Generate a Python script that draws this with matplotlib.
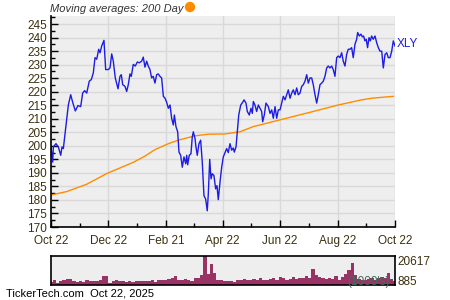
import numpy as np
import matplotlib
matplotlib.use("Agg")
import matplotlib.pyplot as plt
from matplotlib.patches import Ellipse

plt.rcParams['font.family'] = ['Liberation Sans', 'DejaVu Sans']

# days since Oct 22, 2024
price_days = [0, 1.8, 2.5, 5.3, 7.8, 10.3, 11.7, 13.1, 15.9, 18.4, 20.9, 23.0, 25.8, 28.6, 31.5, 33.6,
              35.7, 37.9, 40.6, 42.8, 44.9, 46.7, 48.5, 50.6, 52.0, 53.8, 56.2, 58.0, 60.8, 62.6, 64.4,
              66.1, 68.2, 71.1, 73.2, 74.6, 76.1, 78.5, 80.3, 82.0, 83.8, 85.2, 87.3, 89.4, 91.6, 93.7,
              96.2, 97.9, 99.7, 101.5, 103.2, 105.0, 106.8, 108.5, 110.3, 112.1, 113.8, 115.6, 117.4,
              119.2, 121.0, 122.7, 124.5, 126.3, 128.0, 129.8, 130.9, 132.6, 134.4, 135.8, 137.6, 139.3,
              141.1, 142.9, 144.0, 145.0, 146.7, 148.5, 149.9, 151.0, 152.8, 153.8, 155.2, 157.0, 158.8,
              160.5, 162.3, 164.1, 165.8, 166.9, 168.4, 169.8, 171.1, 172.9, 174.7, 176.1, 177.5, 179.3,
              181.1, 182.8, 184.6,
              186.4, 188.1, 189.9, 191.7, 193.4, 194.5, 196.3, 197.7, 199.2, 201.3, 203.4, 204.8, 206.9,
              208.3, 210.4, 212.2, 213.6, 214.7, 216.4, 218.2, 220.0, 221.7, 223.5, 224.6, 226.3, 228.1,
              230.6, 232.4, 234.2, 235.9, 237.7, 239.5, 241.2, 243.0, 244.8, 246.5, 248.3, 250.1, 251.8,
              253.6, 255.4, 257.1, 258.9, 260.7, 262.4, 264.2, 266.0, 267.7, 269.5, 271.3, 273.0, 274.8,
              276.6, 278.3, 280.1, 281.9, 283.6, 285.4, 287.2, 288.9, 290.7, 292.5, 294.2, 296.0, 297.8,
              299.5, 301.3, 303.1, 304.8, 306.6, 308.4, 310.1, 311.9, 313.7, 315.4, 317.2, 319.0, 320.7,
              322.5, 324.3, 325.4, 327.1, 328.9, 330.3, 331.7, 333.1, 334.5, 335.9, 337.4, 338.8, 340.2,
              341.9, 343.8, 345.5, 347.3, 349.1, 350.9, 352.6, 354.4, 356.2, 357.9, 359.7, 361.5, 363.2,
              365.0]
price = [199.6, 194.0, 199.6, 200.8, 199.6, 196.5, 199.6, 199.0, 207.7, 215.1, 218.9, 216.1, 212.9,
         214.9, 214.5, 219.5, 220.4, 219.5, 223.9, 224.5, 227.0, 232.6, 232.0, 235.7, 234.4, 236.9,
         239.0, 228.2, 228.2, 228.8, 234.0, 231.3, 225.1, 221.1, 225.7, 226.3, 222.6, 222.0, 220.1,
         222.6, 226.6, 225.7, 230.1, 229.5, 231.0, 230.7,
         231.3, 232.8, 229.1, 231.3, 229.5, 228.2, 225.1, 225.7, 223.2, 226.3, 226.6, 225.7, 225.1,
         218.3, 217.6, 216.1, 213.9, 215.1, 210.2, 207.7, 211.4, 207.1, 205.2, 197.7, 196.5, 192.1,
         195.9, 193.4, 196.5, 193.0, 196.5, 197.1, 203.3, 205.2, 202.7, 199.6, 196.5, 200.8, 202.1,
         194.0, 181.6, 180.3, 176.0, 182.2, 195.0, 187.8, 189.7, 189.0, 184.1, 185.3, 180.1, 186.5,
         192.1, 195.9, 197.5,
         199.0, 197.5, 200.8, 198.4, 199.2, 197.7, 199.6, 205.2, 211.4, 215.1, 216.1, 217.0, 215.8,
         212.7, 211.4, 213.9, 212.0, 216.4, 215.1, 212.7, 215.1, 213.9, 212.7, 208.9, 211.4, 215.8,
         214.5, 212.0, 213.3, 210.2, 214.5, 210.2, 213.3, 213.3, 215.8, 218.3, 217.0, 218.9, 220.7,
         217.6, 219.5, 220.7, 218.9, 221.4, 218.9, 219.5, 222.0, 222.6, 223.9, 226.3, 223.2, 225.1,
         225.1, 222.6, 218.9, 215.8, 218.9, 222.6, 223.2, 223.9, 225.7, 228.8, 229.5, 228.8, 229.5,
         228.2, 225.7, 232.6, 233.2, 232.6, 234.4, 231.3, 229.5, 233.8, 235.7, 235.7, 236.3, 232.6,
         237.5, 239.4, 241.9, 240.6, 241.3, 240.3, 240.6, 238.8, 239.4, 236.3, 240.0, 238.8, 240.6,
         239.4, 240.6, 238.2, 236.3, 235.0, 235.0, 228.8, 233.8, 234.4, 232.6, 232.6, 235.0, 238.8,
         236.9]

ma_days = [0, 16.7, 37.9, 59.4, 87.3, 99.7, 110.3, 124.5, 135.1, 152.8, 166.9, 184.6, 200.5, 214.6,
           243.0, 274.8, 304.8, 329.6, 340.2, 363.2]
ma200 = [181.8, 183.1, 185.8, 189.8, 193.9, 196.2, 198.6, 200.8, 202.1, 203.7, 204.3, 204.4, 205.2,
         207.1, 209.6, 212.4, 215.1, 217.0, 217.6, 218.3]

# volume in thousands
volume = [2200, 3400, 1700, 2600, 3800, 4300, 4600, 2900, 2200, 2600,
          1900, 3400, 2900, 3100, 2600, 3800, 6700, 6200, 1700, 2600,
          3800, 2900, 2600, 2400, 2900, 1900, 3100, 2600, 2900, 2600,
          2900, 3400, 2400, 3800, 3400, 3600, 4600, 5300, 6700, 3800,
          3400, 4300, 3800, 2900, 4800, 5300, 7000, 20617, 7700, 14900,
          8200, 3800, 3400, 2900, 2900,
          2900, 2400, 3800, 3400, 4300, 3800, 3400, 4300, 3600, 4800,
          3800, 3400, 4300, 5300, 3800, 5800, 4800, 3800, 4300, 5800,
          4300, 4800, 5300, 6200, 4800, 11300, 7000, 5800, 4800, 4300,
          5300, 4300, 6700, 3800, 5800, 7700, 10600, 15800, 7000, 4300,
          3800, 3400, 4300, 4800, 3800, 4800, 5800, 4800, 8200, 4300, 2900]

tick_days = [0, 61, 122, 182, 243, 304, 365]
tick_labels = ["Oct 22", "Dec 22", "Feb 21", "Apr 22", "Jun 22", "Aug 22", "Oct 22"]

txt = '#3b300e'
fig = plt.figure(figsize=(4.5, 3), dpi=100)

ax = fig.add_axes([51/450, 1-227/300, 344/450, 211/300])
ax.set_facecolor('#eeeeee')
ax.plot(ma_days, ma200, color='#ff8c00', lw=1)
ax.plot(price_days, price, color='#1c1ce6', lw=1)
ax.set_xlim(0, 365)
ax.set_ylim(170, 248)
ax.set_yticks(np.arange(170, 246, 5))
ax.set_yticks(np.arange(170, 248, 2.5), minor=True)
ax.set_xticks(tick_days)
ax.set_xticklabels(tick_labels)
ax.set_xticks([(a + b) / 2 for a, b in zip(tick_days[:-1], tick_days[1:])], minor=True)
ax.grid(True, which='major', color='#d9d9d9', lw=1)
ax.set_axisbelow(True)
for s in ['top', 'right']:
    ax.spines[s].set_visible(False)
for s in ['left', 'bottom']:
    ax.spines[s].set_linewidth(1.2)
ax.tick_params(which='both', direction='in', colors='black', labelcolor=txt, labelsize=8.5)
ax.tick_params(which='major', length=5, width=1)
ax.tick_params(which='minor', length=3, width=1)
ax.tick_params(axis='x', pad=6)
ax.tick_params(axis='y', pad=3)
ax.text(1.005, (237.6 - 170) / 78, "XLY", transform=ax.transAxes, color='#1c1ce6',
        fontsize=8.5, va='center', ha='left')

fig.text(50/450, 1-8.5/300, "Moving averages: 200 Day", style='italic', color='#333333',
         fontsize=8, va='center', ha='left')
fig.patches.append(Ellipse((190/450, 1-7/300), 9/450, 9/300, transform=fig.transFigure,
                           color='#ff8c00', figure=fig))

vax = fig.add_axes([51/450, 1-285/300, 344/450, 29/300])
vax.set_facecolor('#eeeeee')
vx = np.linspace(0, 365, len(volume))
vax.bar(vx, volume, width=365/(len(volume)-1), color='#993366', lw=0)
vax.set_xlim(0, 365)
vax.set_ylim(0, max(volume))
vax.set_xticks([])
vax.set_yticks([])
for s in vax.spines.values():
    s.set_linewidth(1.2)
vax.text(1.008, 0.78, "20617", transform=vax.transAxes, color=txt, fontsize=8.5, va='center')
vax.text(1.008, 0.1, "885", transform=vax.transAxes, color=txt, fontsize=8.5, va='center')
vax.text(0.985, 0.1, "(1000's)", transform=vax.transAxes, color='#3f6e5c', fontsize=8.5,
         va='center', ha='right')

fig.text(6/450, 1-294/300, "TickerTech.com  Oct 22, 2025", color='black', fontsize=8,
         va='center', ha='left')

fig.savefig("out.png", dpi=100)
